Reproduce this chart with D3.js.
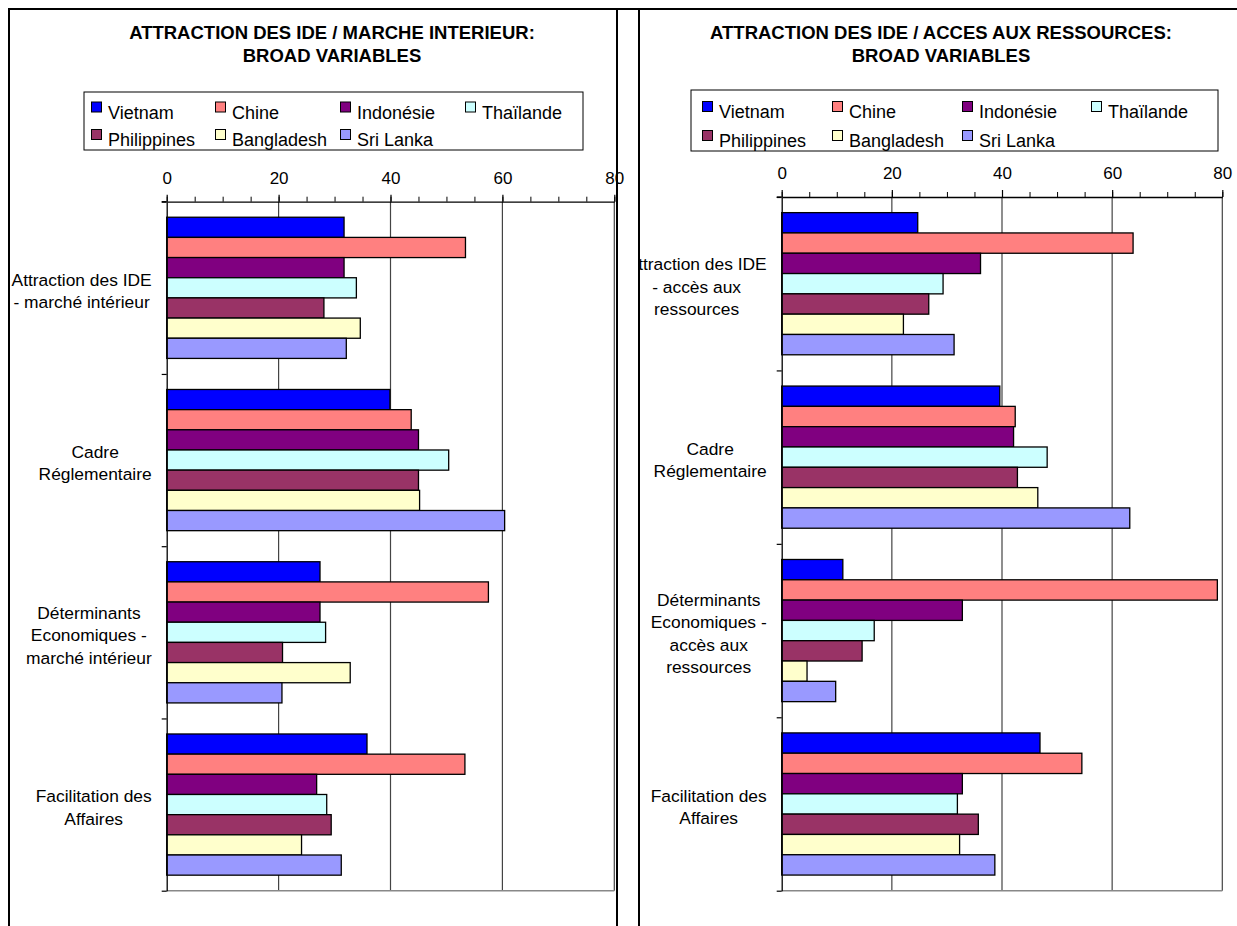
<!DOCTYPE html>
<html>
<head>
<meta charset="utf-8">
<script src="https://cdn.jsdelivr.net/npm/d3@7/dist/d3.min.js"></script>
<style>
  html, body { margin: 0; padding: 0; background: #fff; }
  svg { display: block; font-family: "Liberation Sans", Arial, sans-serif; }
</style>
</head>
<body>
<svg id="chart" width="1237" height="926"></svg>
<script>
// Countries (series) and their fill colours
const countries = ["Vietnam", "Chine", "Indonésie", "Thaïlande", "Philippines", "Bangladesh", "Sri Lanka"];
const countryColors = ["#0000FF", "#FF8080", "#800080", "#CCFFFF", "#993366", "#FFFFCC", "#9999FF"];

// Category labels, one array of lines per category
const categoriesMarche = [
  ["Attraction des IDE", "- marché intérieur"],
  ["Cadre", "Réglementaire"],
  ["Déterminants", "Economiques -", "marché intérieur"],
  ["Facilitation des", "Affaires"]
];
const categoriesRessources = [
  ["Attraction des IDE", "- accès aux", "ressources"],
  ["Cadre", "Réglementaire"],
  ["Déterminants", "Economiques -", "accès aux", "ressources"],
  ["Facilitation des", "Affaires"]
];

// Scores per category, in country order
const valuesMarche = [
  [31.7, 53.4, 31.7, 33.9, 28.1, 34.6, 32.1],
  [39.9, 43.7, 45.0, 50.4, 45.0, 45.2, 60.4],
  [27.4, 57.5, 27.4, 28.4, 20.7, 32.8, 20.6],
  [35.8, 53.3, 26.8, 28.6, 29.4, 24.1, 31.2]
];
const valuesRessources = [
  [24.7, 63.8, 36.1, 29.3, 26.7, 22.1, 31.3],
  [39.6, 42.4, 42.1, 48.2, 42.8, 46.5, 63.2],
  [11.1, 79.1, 32.8, 16.8, 14.6, 4.6, 9.8],
  [46.9, 54.5, 32.8, 31.9, 35.7, 32.3, 38.7]
];

const xTicks = [0, 20, 40, 60, 80];
const xMinorTicks = d3.range(0, 81, 5);

const titlesMarche = ["ATTRACTION DES IDE / MARCHE INTERIEUR:", "BROAD VARIABLES"];
const titlesRessources = ["ATTRACTION DES IDE / ACCES AUX RESSOURCES:", "BROAD VARIABLES"];

const svg = d3.select("#chart");

// Clip region for the right-hand panel
svg.append("defs").append("clipPath").attr("id", "clip-right")
  .append("rect").attr("x", 640).attr("y", 10).attr("width", 620).attr("height", 930);

function drawPanel(cfg) {
  const g = svg.append("g");
  if (cfg.clip) g.attr("clip-path", `url(#${cfg.clip})`);

  // Title
  g.append("text")
    .attr("text-anchor", "middle")
    .attr("font-weight", "bold")
    .attr("font-size", "18.5px")
    .selectAll("tspan").data(cfg.titles).join("tspan")
    .attr("x", cfg.titleX)
    .attr("y", (d, i) => 38.5 + i * 23)
    .text(d => d);

  // Legend
  const lg = cfg.legend;
  g.append("rect").attr("x", lg.x).attr("y", lg.y).attr("width", lg.w).attr("height", lg.h)
    .attr("fill", "#fff").attr("stroke", "#000").attr("stroke-width", 1);
  countries.forEach((c, i) => {
    const col = i % 4, row = Math.floor(i / 4);
    const sx = lg.cols[col], by = lg.rows[row];
    g.append("rect").attr("x", sx + 0.5).attr("y", by - 16.5).attr("width", 10).attr("height", 10)
      .attr("fill", countryColors[i]).attr("stroke", "#000").attr("stroke-width", 1);
    g.append("text").attr("x", sx + 17).attr("y", by)
      .attr("font-size", "18px").attr("fill", "#000").text(c);
  });

  // Scales
  const x = d3.scaleLinear().domain([0, 80]).range([cfg.x0, cfg.x1]);
  const y = d3.scaleBand().domain(d3.range(cfg.categories.length))
    .range([cfg.top, cfg.bottom]).paddingInner(0).paddingOuter(0);
  const yInner = d3.scaleBand().domain(countries)
    .range([0, y.bandwidth()]).paddingInner(0).paddingOuter(0.77);

  // Vertical gridlines
  g.append("g").selectAll("line").data(xTicks.filter(d => d > 0)).join("line")
    .attr("x1", d => x(d)).attr("x2", d => x(d))
    .attr("y1", cfg.top).attr("y2", cfg.bottom)
    .attr("stroke", "#444").attr("stroke-width", 1.2);

  // Plot-area bottom edge
  g.append("line").attr("x1", x(0)).attr("x2", x(80))
    .attr("y1", cfg.bottom).attr("y2", cfg.bottom)
    .attr("stroke", "#888").attr("stroke-width", 1.5);

  // Bars
  cfg.values.forEach((row, ci) => {
    g.append("g").selectAll("rect").data(row).join("rect")
      .attr("x", x(0))
      .attr("y", (d, i) => y(ci) + yInner(countries[i]))
      .attr("width", d => x(d) - x(0))
      .attr("height", yInner.bandwidth())
      .attr("fill", (d, i) => countryColors[i])
      .attr("stroke", "#000").attr("stroke-width", 1.3);
  });

  // Top value axis: minor ticks, then major ticks with labels
  const minor = d3.axisTop(x).tickValues(xMinorTicks).tickSize(5).tickSizeOuter(0).tickFormat("");
  g.append("g").attr("transform", `translate(0,${cfg.top})`).call(minor)
    .call(a => a.select(".domain").remove())
    .selectAll("line").attr("stroke", "#000");
  const major = d3.axisTop(x).tickValues(xTicks).tickSize(7).tickSizeOuter(0).tickPadding(11).tickFormat(d3.format("d"));
  const ax = g.append("g").attr("transform", `translate(0,${cfg.top})`).call(major);
  ax.select(".domain").attr("stroke", "#000").attr("stroke-width", 1.3);
  ax.selectAll("line").attr("stroke", "#000").attr("stroke-width", 1.2);
  ax.selectAll("text").attr("font-size", "17px").attr("fill", "#000")
    .attr("font-family", "'Liberation Sans', Arial, sans-serif");

  // Category axis with ticks at band boundaries
  const yb = d3.scaleLinear().domain([0, cfg.categories.length]).range([cfg.top, cfg.bottom]);
  const cax = g.append("g").attr("transform", `translate(${x(0)},0)`)
    .call(d3.axisLeft(yb).ticks(cfg.categories.length).tickSize(5).tickSizeOuter(0).tickFormat(""));
  cax.select(".domain").attr("stroke", "#000").attr("stroke-width", 1.3);
  cax.selectAll("line").attr("stroke", "#000").attr("stroke-width", 1.2);
  // top-left overshoot of the value axis
  g.append("line").attr("x1", x(0) - 5).attr("x2", x(0)).attr("y1", cfg.top).attr("y2", cfg.top)
    .attr("stroke", "#000").attr("stroke-width", 1.3);

  // Category labels: each block ends 15px left of the axis, lines centred in the block
  const lineH = 22.5;
  cfg.categories.forEach((lines, ci) => {
    const t = g.append("text").attr("font-size", "17.4px").attr("fill", "#000").attr("text-anchor", "middle");
    const cy = y(ci) + y.bandwidth() / 2 + 3;
    const y0 = cy - (lines.length - 1) * lineH / 2 + 6;
    const spans = t.selectAll("tspan").data(lines).join("tspan")
      .attr("y", (d, i) => y0 + i * lineH).text(d => d);
    let maxW = 0;
    spans.each(function () { maxW = Math.max(maxW, this.getComputedTextLength()); });
    spans.attr("x", x(0) - 15 - maxW / 2);
  });
}

drawPanel({
  titles: titlesMarche, titleX: 332,
  legend: { x: 84, y: 92, w: 499, h: 58, cols: [91, 215, 340, 465], rows: [118.5, 146] },
  x0: 166.7, x1: 614.3, top: 201.7, bottom: 890.7,
  categories: categoriesMarche, values: valuesMarche
});
drawPanel({
  titles: titlesRessources, titleX: 941, clip: "clip-right",
  legend: { x: 691, y: 90, w: 527, h: 61, cols: [702, 832, 962, 1091], rows: [118, 147] },
  x0: 781.7, x1: 1222.3, top: 197, bottom: 890.7,
  categories: categoriesRessources, values: valuesRessources
});

// Panel frames
svg.append("line").attr("x1", 8).attr("x2", 1237).attr("y1", 9).attr("y2", 9)
  .attr("stroke", "#000").attr("stroke-width", 2);
[9, 617, 639].forEach(a => {
  svg.append("line").attr("x1", a).attr("x2", a).attr("y1", 8).attr("y2", 926)
    .attr("stroke", "#000").attr("stroke-width", 2);
});
</script>
</body>
</html>
